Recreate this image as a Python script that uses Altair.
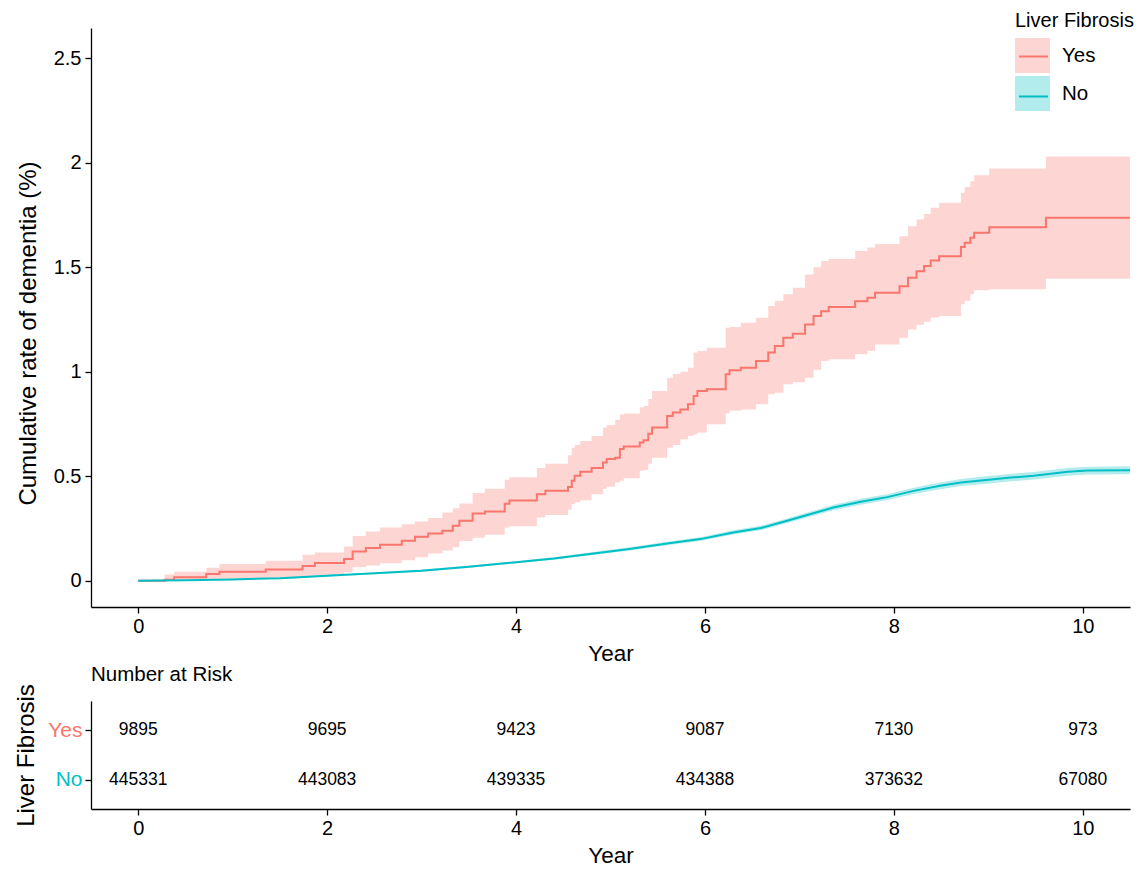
import altair as alt
import pandas as pd

RED = "#F8766D"
TEAL = "#00BFC4"
RED_FILL = "#FDD6D3"
TEAL_FILL = "#B3ECED"
FONT = "Liberation Sans"

# ---- Liver fibrosis = Yes (Kaplan-Meier style step curve) ----
yes_time = [0.00, 0.28, 0.38, 0.72, 0.86, 1.35, 1.74, 1.87, 2.18, 2.27, 2.41, 2.56, 2.79, 2.93,
            3.07, 3.22, 3.33, 3.40, 3.54, 3.67, 3.88, 3.93, 4.22, 4.31, 4.55, 4.59, 4.62, 4.68,
            4.80, 4.92, 4.96, 5.05, 5.10, 5.14, 5.31, 5.35, 5.40, 5.44, 5.60, 5.66, 5.74, 5.82,
            5.88, 5.92, 6.02, 6.22, 6.26, 6.38, 6.54, 6.67, 6.74, 6.83, 6.93, 7.06, 7.15, 7.23,
            7.31, 7.59, 7.72, 7.80, 8.06, 8.15, 8.24, 8.32, 8.39, 8.48, 8.71, 8.75, 8.81, 8.85,
            9.01, 9.61, 10.50]
yes_est = [0.000, 0.005, 0.016, 0.032, 0.043, 0.053, 0.070, 0.085, 0.104, 0.140, 0.156, 0.172, 0.191, 0.210,
           0.226, 0.239, 0.263, 0.287, 0.322, 0.331, 0.368, 0.384, 0.414, 0.430, 0.449, 0.478, 0.502, 0.521,
           0.539, 0.566, 0.582, 0.589, 0.630, 0.642, 0.661, 0.672, 0.704, 0.733, 0.789, 0.805, 0.820, 0.845,
           0.884, 0.908, 0.916, 0.988, 1.007, 1.020, 1.052, 1.092, 1.123, 1.163, 1.182, 1.227, 1.267, 1.290,
           1.310, 1.338, 1.354, 1.378, 1.410, 1.450, 1.482, 1.506, 1.533, 1.553, 1.597, 1.618, 1.642, 1.666,
           1.692, 1.737, 1.737]
yes_low = [0.000, 0.000, 0.001, 0.004, 0.008, 0.012, 0.020, 0.027, 0.040, 0.064, 0.073, 0.083, 0.098, 0.112,
           0.130, 0.145, 0.160, 0.190, 0.205, 0.220, 0.255, 0.260, 0.303, 0.315, 0.340, 0.367, 0.375, 0.385,
           0.414, 0.440, 0.450, 0.470, 0.478, 0.490, 0.526, 0.530, 0.560, 0.589, 0.637, 0.650, 0.677, 0.693,
           0.700, 0.709, 0.749, 0.800, 0.813, 0.820, 0.845, 0.893, 0.900, 0.940, 0.950, 0.972, 1.010, 1.052,
           1.060, 1.084, 1.100, 1.131, 1.163, 1.203, 1.225, 1.240, 1.260, 1.267, 1.323, 1.340, 1.371, 1.390,
           1.395, 1.445, 1.445]
yes_up = [0.000, 0.029, 0.043, 0.062, 0.080, 0.096, 0.124, 0.135, 0.164, 0.214, 0.235, 0.255, 0.270, 0.283,
          0.300, 0.326, 0.347, 0.370, 0.420, 0.440, 0.483, 0.495, 0.539, 0.560, 0.600, 0.637, 0.650, 0.669,
          0.693, 0.733, 0.745, 0.770, 0.796, 0.800, 0.829, 0.836, 0.870, 0.908, 0.972, 0.990, 1.000, 1.020,
          1.092, 1.100, 1.115, 1.211, 1.215, 1.235, 1.259, 1.315, 1.340, 1.371, 1.403, 1.466, 1.500, 1.530,
          1.540, 1.578, 1.595, 1.612, 1.649, 1.697, 1.729, 1.755, 1.785, 1.809, 1.857, 1.885, 1.912, 1.941,
          1.973, 2.031, 2.031]

# ---- Liver fibrosis = No (many tiny steps, read as a smooth curve) ----
no_time = [0.0, 0.5, 1.0, 1.5, 2.0, 2.5, 3.0, 3.5, 4.0, 4.4, 4.78, 5.2, 5.6, 5.95, 6.30, 6.59,
           6.87, 7.12, 7.36, 7.65, 7.93, 8.21, 8.49, 8.71, 8.95, 9.24, 9.48, 9.84, 10.05, 10.5]
no_est = [0.000, 0.002, 0.006, 0.012, 0.024, 0.035, 0.048, 0.067, 0.088, 0.106, 0.128, 0.152,
          0.178, 0.199, 0.231, 0.252, 0.287, 0.319, 0.350, 0.378, 0.400, 0.430, 0.454, 0.470,
          0.481, 0.494, 0.502, 0.521, 0.527, 0.529]
no_low = [0.000, 0.001, 0.004, 0.009, 0.020, 0.031, 0.043, 0.062, 0.083, 0.100, 0.121, 0.144,
          0.170, 0.190, 0.221, 0.241, 0.276, 0.307, 0.337, 0.364, 0.386, 0.415, 0.438, 0.453,
          0.463, 0.476, 0.484, 0.502, 0.508, 0.510]
no_up = [0.000, 0.003, 0.008, 0.015, 0.028, 0.039, 0.053, 0.072, 0.093, 0.112, 0.135, 0.160,
         0.186, 0.208, 0.241, 0.263, 0.298, 0.331, 0.363, 0.392, 0.414, 0.445, 0.470, 0.487,
         0.499, 0.512, 0.520, 0.540, 0.546, 0.548]

# ---- Number at risk ----
risk_years = [0, 2, 4, 6, 8, 10]
risk_yes = [9895, 9695, 9423, 9087, 7130, 973]
risk_no = [445331, 443083, 439335, 434388, 373632, 67080]

groups = ["Yes", "No"]
line_groups = ["Yes (line)", "No (line)"]
x_ticks = [0, 2, 4, 6, 8, 10]
y_ticks = [0, 0.5, 1, 1.5, 2, 2.5]

yes_df = pd.DataFrame({"time": yes_time, "est": yes_est, "low": yes_low, "up": yes_up,
                       "grp": groups[0], "grp_line": line_groups[0]})
no_df = pd.DataFrame({"time": no_time, "est": no_est, "low": no_low, "up": no_up,
                      "grp": groups[1], "grp_line": line_groups[1]})
risk_df = pd.DataFrame({
    "year": risk_years * 2,
    "grp": ["Yes"] * len(risk_years) + ["No"] * len(risk_years),
    "n": risk_yes + risk_no,
})

x_scale = alt.Scale(domain=[-0.5, 10.5], nice=False, zero=False)
y_scale = alt.Scale(domain=[-0.126, 2.646], nice=False, zero=False)

axis_common = dict(domainColor="black", tickColor="black", titleColor="black",
                   domainWidth=1.3, tickWidth=1.3, tickSize=6, grid=False,
                   labelFont=FONT, titleFont=FONT, titleFontWeight="normal")

x_axis = alt.Axis(values=x_ticks, format="d", labelPadding=3, titlePadding=6,
                  labelFontSize=20, titleFontSize=22.5, labelColor="black", **axis_common)
y_axis = alt.Axis(values=y_ticks, format="~g", labelPadding=4, titleX=-51, titleY=305,
                  labelFontSize=20, titleFontSize=24, labelColor="black", **axis_common)

legend_common = dict(orient="none", legendX=924, legendY=-17, symbolSize=1225,
                     titleFontSize=20, titleFontWeight="normal",
                     labelFont=FONT, titleFont=FONT, labelOffset=12, titlePadding=7)
fill_legend = alt.Legend(title="Liver Fibrosis", symbolType="square", symbolStrokeWidth=0,
                         labelFontSize=20.5, rowPadding=3,
                         labelColor="black", titleColor="black", zindex=1, **legend_common)
line_legend = alt.Legend(title="Liver Fibrosis", symbolType="M-1,-1M1,1M-0.83,0H0.83",
                         symbolStrokeWidth=2, symbolFillColor="transparent",
                         labelFontSize=20.5, labelExpr="''", rowPadding=-5,
                         titleColor="transparent", zindex=3, **legend_common)

fill_enc = alt.Fill("grp:N", scale=alt.Scale(domain=groups, range=[RED_FILL, TEAL_FILL]),
                    legend=fill_legend)
stroke_enc = alt.Stroke("grp_line:N", scale=alt.Scale(domain=line_groups, range=[RED, TEAL]),
                        legend=line_legend)

Y_TITLE = "Cumulative rate of dementia (%)"
x_enc = alt.X("time:Q", scale=x_scale, axis=x_axis, title="Year")
y_low = alt.Y("low:Q", scale=y_scale, axis=y_axis, title=Y_TITLE)
y_est = alt.Y("est:Q", scale=y_scale, axis=y_axis, title=Y_TITLE)

yes_band = alt.Chart(yes_df).mark_area(interpolate="step-after", opacity=1).encode(
    x=x_enc, y=y_low, y2="up:Q", fill=fill_enc)
no_band = alt.Chart(no_df).mark_area(interpolate="linear", opacity=1).encode(
    x=x_enc, y=y_low, y2="up:Q", fill=fill_enc)
yes_line = alt.Chart(yes_df).mark_line(interpolate="step-after", strokeWidth=2).encode(
    x=x_enc, y=y_est, stroke=stroke_enc)
no_line = alt.Chart(no_df).mark_line(interpolate="linear", strokeWidth=2).encode(
    x=x_enc, y=y_est, stroke=stroke_enc)

main = alt.layer(yes_band, no_band, yes_line, no_line).properties(width=1039, height=579)

risk_y_axis = alt.Axis(
    title="Liver Fibrosis", labelPadding=3, titleX=-53,
    labelColor={"condition": {"test": "datum.value == 'Yes'", "value": RED}, "value": TEAL},
    labelFontSize=21, titleFontSize=24, **axis_common)

risk = alt.Chart(risk_df).mark_text(fontSize=17.5, color="black", font=FONT).encode(
    x=alt.X("year:Q", scale=x_scale, axis=x_axis, title="Year"),
    y=alt.Y("grp:N", scale=alt.Scale(type="point", domain=groups, padding=0.6), axis=risk_y_axis),
    text=alt.Text("n:Q", format="d"),
).properties(
    width=1039, height=108,
    title=alt.TitleParams("Number at Risk", anchor="start", frame="group", fontSize=20.5,
                          fontWeight="normal", font=FONT, color="black", offset=-2),
)

chart = alt.vconcat(main, risk, spacing=0).resolve_scale(
    x="independent", y="independent"
).properties(
    padding={"left": 6, "top": 3, "right": 0, "bottom": 0}
).configure(font=FONT).configure_view(stroke=None, strokeWidth=0)

chart.save("out.html", embed_options={"renderer": "svg", "actions": False})
